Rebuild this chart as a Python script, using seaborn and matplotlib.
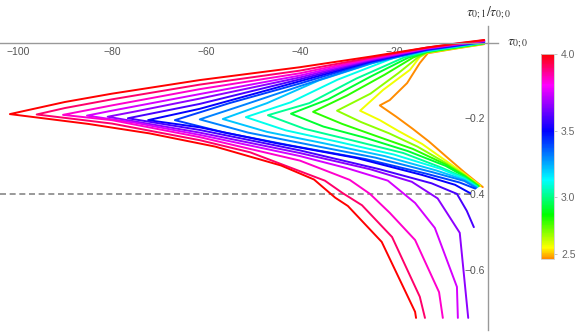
import numpy as np
import pandas as pd
import matplotlib
matplotlib.use("Agg")
import matplotlib.pyplot as plt
import seaborn as sns
from matplotlib.colors import LinearSegmentedColormap, FuncNorm
from matplotlib.cm import ScalarMappable

# parameter of each curve (colour value)
param = [2.449, 2.574, 2.693, 2.806, 2.915, 3.021, 3.122, 3.221, 3.317,
         3.410, 3.500, 3.588, 3.674, 3.758, 3.841, 3.921, 4.000]

# upper branch of each curve, from the origin out to the tip
up_x = [
    [-0.8, -6, -12.8, -14.5, -17.2, -20.9, -23.0],
    [-0.8, -6, -13, -14.5, -16.6, -22.3, -27.2],
    [-0.8, -6, -13, -15, -19, -25, -32.1],
    [-0.8, -6, -13, -16, -22, -30, -37.2],
    [-0.8, -6, -13, -17, -25, -34, -41.9],
    [-0.8, -6, -13, -18, -28, -38, -46.8],
    [-0.8, -6, -13, -20, -32, -42, -51.5],
    [-0.8, -6, -13, -21, -36, -47, -56.4],
    [-0.8, -6, -13, -25, -40, -52, -61.3],
    [-0.8, -6, -13, -25, -40, -55, -66.6],
    [-0.8, -6, -13, -25, -40, -61.3, -72.3],
    [-0.8, -6, -13, -25, -40, -61.3, -76.6],
    [-0.8, -6, -13, -25, -40, -61.3, -75, -80.9],
    [-0.8, -6, -13, -25, -40, -61.3, -80, -85.3],
    [-0.8, -6, -13, -25, -40, -61.3, -80, -90.4],
    [-0.8, -6, -13, -25, -40, -61.3, -80, -90, -96.0],
    [-0.8, -6, -13, -25, -40, -61.3, -80, -90, -101.7],
]
up_y = [
    [-0.004, -0.014, -0.028, -0.054, -0.107, -0.152, -0.166],
    [-0.0033, -0.0132, -0.027, -0.038, -0.072, -0.125, -0.180],
    [-0.0026, -0.0124, -0.026, -0.040, -0.080, -0.135, -0.180],
    [-0.0019, -0.0116, -0.025, -0.040, -0.085, -0.140, -0.183],
    [-0.0013, -0.0108, -0.024, -0.040, -0.090, -0.150, -0.188],
    [-0.0006, -0.0099, -0.023, -0.040, -0.095, -0.160, -0.192],
    [0.0001, -0.0091, -0.022, -0.040, -0.098, -0.158, -0.197],
    [0.0008, -0.0083, -0.021, -0.040, -0.100, -0.160, -0.202],
    [0.0015, -0.0075, -0.020, -0.055, -0.115, -0.165, -0.203],
    [0.0022, -0.0067, -0.019, -0.052, -0.108, -0.160, -0.205],
    [0.0029, -0.0059, -0.018, -0.050, -0.102, -0.175, -0.205],
    [0.0036, -0.0051, -0.017, -0.048, -0.097, -0.162, -0.200],
    [0.0043, -0.0043, -0.016, -0.046, -0.092, -0.148, -0.182, -0.196],
    [0.0049, -0.0034, -0.015, -0.044, -0.087, -0.136, -0.180, -0.193],
    [0.0056, -0.0026, -0.014, -0.042, -0.081, -0.123, -0.166, -0.191],
    [0.0063, -0.0018, -0.013, -0.040, -0.074, -0.111, -0.150, -0.173, -0.190],
    [0.0070, -0.0010, -0.013, -0.037, -0.065, -0.099, -0.135, -0.157, -0.189],
]

# lower branch of each curve, from the tip back towards the axis
lo_x = [
    [-23.0, -19.5, -16, -12.5, -9, -5, -1.1],
    [-27.2, -23, -19, -14, -9, -5, -1.6],
    [-32.1, -27, -21, -15, -9, -5, -1.8],
    [-37.2, -31, -24, -16, -9, -5, -2.0],
    [-41.9, -35, -26, -17, -9, -5, -2.1],
    [-46.8, -39, -29, -18, -10, -5, -2.2],
    [-51.5, -43, -32, -20, -10, -5, -2.3],
    [-56.4, -47, -35, -22, -11, -5, -2.4],
    [-61.3, -51, -38, -24, -12, -5, -2.5],
    [-66.6, -56, -42, -26, -13, -6, -2.7],
    [-72.3, -61.3, -45, -28, -14, -7, -3.8],
    [-76.6, -61.3, -40, -23, -12, -6.6, -4.5, -3.0],
    [-80.9, -61.3, -40, -25, -16.2, -10.7, -6.0, -4.2],
    [-85.3, -75, -61.3, -40, -30, -21.3, -15.5, -11.3, -6.6, -6.4],
    [-90.4, -80, -61.3, -40, -29.4, -25.1, -20.9, -15.5, -10.4, -9.6],
    [-96.0, -80, -61.3, -50.6, -40, -34.7, -30.9, -26.8, -20.4, -14.5, -13.4],
    [-101.7, -85, -72, -58, -44, -37, -32.5, -29.8, -22.6, -15.5, -15.3],
]
lo_y = [
    [-0.166, -0.196, -0.228, -0.262, -0.300, -0.343, -0.382],
    [-0.180, -0.205, -0.234, -0.268, -0.312, -0.347, -0.379],
    [-0.180, -0.210, -0.240, -0.275, -0.318, -0.350, -0.379],
    [-0.183, -0.215, -0.246, -0.281, -0.322, -0.352, -0.379],
    [-0.188, -0.222, -0.252, -0.287, -0.326, -0.354, -0.380],
    [-0.192, -0.228, -0.258, -0.292, -0.330, -0.357, -0.381],
    [-0.197, -0.232, -0.262, -0.296, -0.334, -0.360, -0.382],
    [-0.202, -0.236, -0.266, -0.300, -0.338, -0.363, -0.383],
    [-0.203, -0.238, -0.270, -0.304, -0.342, -0.366, -0.384],
    [-0.205, -0.238, -0.272, -0.308, -0.347, -0.370, -0.386],
    [-0.205, -0.224, -0.266, -0.305, -0.350, -0.376, -0.398],
    [-0.200, -0.231, -0.285, -0.335, -0.372, -0.400, -0.445, -0.488],
    [-0.196, -0.238, -0.292, -0.335, -0.368, -0.412, -0.503, -0.728],
    [-0.193, -0.212, -0.244, -0.300, -0.332, -0.365, -0.424, -0.490, -0.646, -0.728],
    [-0.191, -0.205, -0.250, -0.312, -0.363, -0.400, -0.450, -0.522, -0.660, -0.728],
    [-0.190, -0.214, -0.258, -0.290, -0.340, -0.365, -0.398, -0.430, -0.514, -0.672, -0.728],
    [-0.189, -0.215, -0.240, -0.275, -0.325, -0.362, -0.410, -0.432, -0.527, -0.712, -0.728],
]

ref_level = -0.4
x_ticks = [-100, -80, -60, -40, -20]
y_ticks = [-0.6, -0.4, -0.2]
bar_ticks = [2.5, 3.0, 3.5, 4.0]

# long table for seaborn
rows = []
for i, v in enumerate(param):
    xs = up_x[i] + lo_x[i][1:]
    ys = up_y[i] + lo_y[i][1:]
    for k, (x, y) in enumerate(zip(xs, ys)):
        rows.append({"curve": i, "v": v, "order": k, "x": x, "y": y})
df = pd.DataFrame(rows)

# hue-like colour scale, orange at the bottom to red at the top
hue_cmap = LinearSegmentedColormap.from_list(
    "hue", [(0.0, "#ff8c00"), (0.054, "#ffff00"), (0.215, "#00ff00"),
            (0.385, "#00ffff"), (0.624, "#0000ff"), (0.849, "#ff00ff"),
            (1.0, "#ff0000")], N=256)
norm = FuncNorm((lambda v: v ** 2, lambda v: np.sqrt(v)), vmin=param[0], vmax=param[-1])

sns.set_style("white")
plt.rcParams["font.family"] = ["Liberation Sans", "DejaVu Sans"]
plt.rcParams["mathtext.fontset"] = "stix"

fig = plt.figure(figsize=(5.81, 3.35), dpi=100)
ax = fig.add_axes([0, 5 / 335, 498.3 / 581, 304 / 335])

sns.lineplot(data=df, x="x", y="y", hue="v", units="curve", estimator=None,
             sort=False, palette=hue_cmap, hue_norm=norm, linewidth=1.4,
             legend=False, ax=ax)

ax.hlines(ref_level, -103.8, -4, colors="#888888", linestyles=(0, (3.6, 2.2)),
          linewidth=1.2, zorder=1)

ax.set_xlim(-103.8, 2.2)
ax.set_ylim(-0.76, 0.044)
ax.set_xlabel("")
ax.set_ylabel("")

for s in ["top", "right"]:
    ax.spines[s].set_visible(False)
ax.spines["left"].set_position(("data", 0))
ax.spines["bottom"].set_position(("data", 0))
for s in ["left", "bottom"]:
    ax.spines[s].set_color("#999999")
    ax.spines[s].set_linewidth(1.0)

ax.set_xticks(x_ticks)
ax.set_xticks(np.arange(-100, 0, 5), minor=True)
ax.set_yticks(y_ticks)
ax.set_yticks(np.arange(-0.75, 0, 0.05), minor=True)
ax.set_xticklabels([f"\u2212{abs(t)}" for t in x_ticks])
ax.set_yticklabels([f"\u2212{abs(t):.1f}" for t in y_ticks])
ax.tick_params(which="both", direction="in", color="#999999", width=0.8,
               labelcolor="#555555", labelsize=7.5)
ax.tick_params(which="major", length=4)
ax.tick_params(which="minor", length=2.3)
ax.tick_params(axis="x", pad=3)
ax.tick_params(axis="y", pad=2)

fig.text(489 / 581, 1 - 13 / 335, r"$\tau_{0;1}/\tau_{0;0}$", ha="center",
         va="center", fontsize=10, color="#333333")
fig.text(507 / 581, 1 - 43 / 335, r"$\tau_{0;0}$", ha="left", va="center",
         fontsize=10, color="#333333")

# colour bar
cax = fig.add_axes([541 / 581, 76 / 335, 13 / 581, 205 / 335])
cb = fig.colorbar(ScalarMappable(norm=norm, cmap=hue_cmap), cax=cax)
cb.set_ticks(bar_ticks)
cb.set_ticklabels([f"{t:.1f}" for t in bar_ticks])
cb.outline.set_edgecolor("#cccccc")
cb.outline.set_linewidth(0.6)
cax.tick_params(length=2, width=0.6, color="#bbbbbb", labelcolor="#666666",
                labelsize=7.5, pad=3)
cax.minorticks_off()

fig.savefig("out.png", dpi=100)
